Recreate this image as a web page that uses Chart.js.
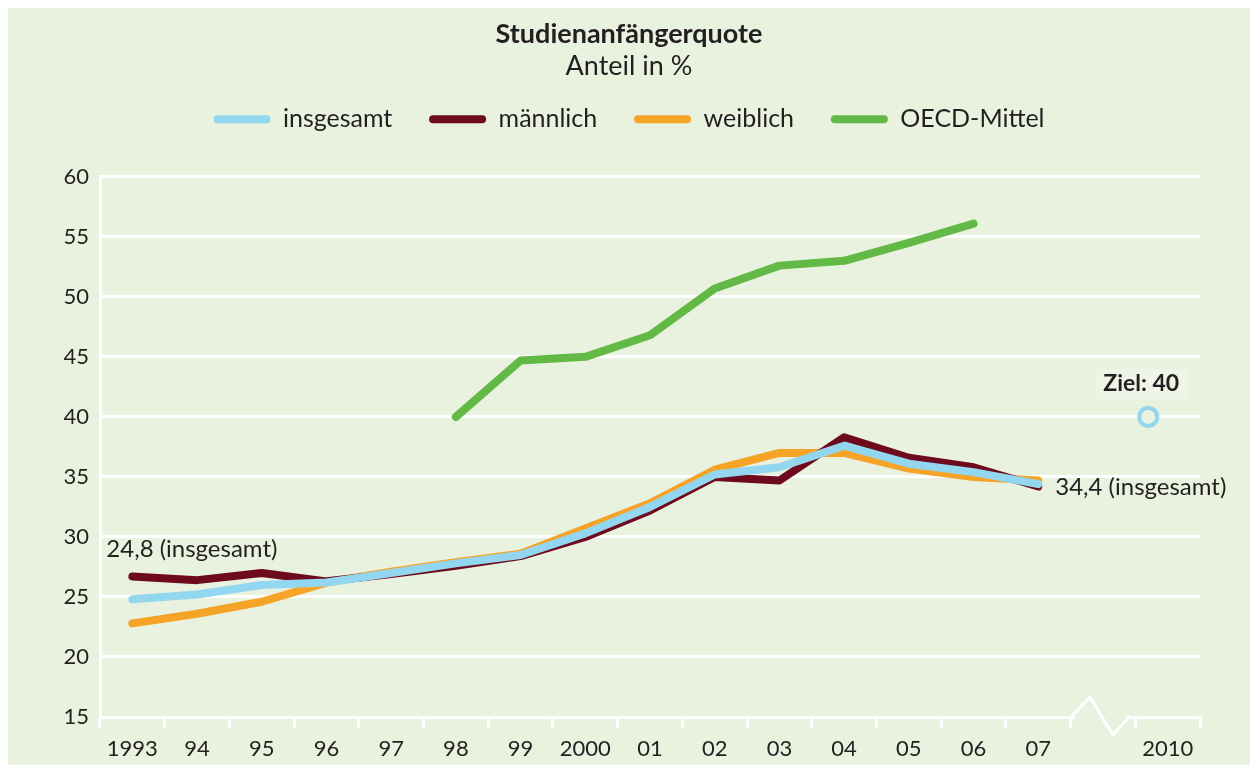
<!DOCTYPE html>
<html lang="de">
<head>
<meta charset="utf-8">
<title>Studienanfängerquote</title>
<script src="https://cdn.jsdelivr.net/npm/chart.js@4.4.1/dist/chart.umd.min.js"></script>
<style>
  html, body { margin: 0; padding: 0; background: #fff; }
  #panel { position: absolute; left: 8px; top: 8px; width: 1242px; height: 757px; background: #e9f1df; }
  #chart { display: block; }
</style>
</head>
<body>
<div id="panel"><canvas id="chart" width="1242" height="757"></canvas></div>
<script>
(() => {
  // categories: 1993..2007, a gap slot for the axis break, then 2010
  const years = ["1993", "94", "95", "96", "97", "98", "99", "2000", "01", "02", "03", "04", "05", "06", "07", "", "2010"];

  const insgesamt = [24.8, 25.2, 26.0, 26.2, 27.0, 27.8, 28.5, 30.3, 32.5, 35.2, 35.8, 37.6, 36.1, 35.4, 34.4, null, null];
  const maennlich = [26.7, 26.4, 27.0, 26.3, 26.9, 27.6, 28.4, 30.0, 32.2, 35.0, 34.7, 38.3, 36.6, 35.8, 34.2, null, null];
  const weiblich = [22.8, 23.6, 24.6, 26.2, 27.1, 27.9, 28.6, 30.7, 32.8, 35.6, 37.0, 37.0, 35.7, 35.0, 34.7, null, null];
  const oecdMittel = [null, null, null, null, null, 40.0, 44.7, 45.0, 46.8, 50.7, 52.6, 53.0, 54.5, 56.1, null, null, null];

  // target for 2010, drawn a little left of the 2010 slot centre as in the original
  const zielPos = 15.7;
  const zielWert = 40;

  const yTicks = [15, 20, 25, 30, 35, 40, 45, 50, 55, 60];

  const BG = "#e9f1df";
  const TEXT = "#231f20";
  const BLUE = "#93d6f0";
  const MAROON = "#6d0a1d";
  const ORANGE = "#f5a427";
  const GREEN = "#62b946";
  const FONT = "Lato, 'Open Sans', sans-serif";

  const fmt = (v) => String(v).replace(".", ",");

  function line(label, data, color) {
    return {
      label,
      data,
      borderColor: color,
      backgroundColor: color,
      borderWidth: 8,
      borderCapStyle: "round",
      borderJoinStyle: "round",
      pointRadius: 0,
      pointHoverRadius: 0,
      tension: 0,
      spanGaps: false
    };
  }

  // extra room between legend and plot
  const legendSpace = {
    id: "legendSpace",
    beforeInit(chart) {
      const fit = chart.legend.fit;
      chart.legend.fit = function () {
        fit.bind(chart.legend)();
        this.height += 35;
      };
    }
  };

  const notes = {
    id: "notes",
    afterDatasetsDraw(chart) {
      const { ctx } = chart;
      const xs = chart.scales.x;
      const ys = chart.scales.y;
      const xt = chart.scales.xt;
      ctx.save();
      ctx.fillStyle = TEXT;
      ctx.textBaseline = "middle";

      ctx.font = `24px ${FONT}`;
      ctx.textAlign = "left";
      ctx.fillText(`${fmt(insgesamt[0])} (insgesamt)`, xs.getPixelForValue(0) - 26, ys.getPixelForValue(insgesamt[0]) - 50);
      ctx.fillText(`${fmt(insgesamt[14])} (insgesamt)`, xs.getPixelForValue(14) + 17, ys.getPixelForValue(insgesamt[14]) + 3);

      const zx = xt.getPixelForValue(zielPos) - 7;
      const zy = ys.getPixelForValue(zielWert) - 33;
      ctx.font = `bold 23px ${FONT}`;
      const w = ctx.measureText(`Ziel: ${zielWert}`).width + 16;
      ctx.fillStyle = "#eef5e7";
      ctx.fillRect(zx - w / 2, zy - 15, w, 30);
      ctx.fillStyle = TEXT;
      ctx.textAlign = "center";
      ctx.fillText(`Ziel: ${zielWert}`, zx, zy);
      ctx.restore();
    },
    afterDraw(chart) {
      // axis break between 2007 and 2010
      const { ctx } = chart;
      const xs = chart.scales.x;
      const c = xs.getPixelForValue(15);
      const y0 = chart.chartArea.bottom;
      ctx.save();
      ctx.fillStyle = BG;
      ctx.fillRect(c - 28, y0 - 3, 52, 6);
      ctx.strokeStyle = "#fff";
      ctx.lineWidth = 3;
      ctx.lineJoin = "miter";
      ctx.beginPath();
      ctx.moveTo(c - 31, y0 - 1);
      ctx.lineTo(c - 13, y0 - 20);
      ctx.lineTo(c + 10, y0 + 18);
      ctx.lineTo(c + 27, y0 - 1);
      ctx.stroke();
      ctx.restore();
    }
  };

  new Chart(document.getElementById("chart"), {
    type: "line",
    data: {
      labels: years,
      datasets: [
        line("insgesamt", insgesamt, BLUE),
        line("männlich", maennlich, MAROON),
        line("weiblich", weiblich, ORANGE),
        line("OECD-Mittel", oecdMittel, GREEN),
        {
          label: "Ziel",
          data: [{ x: zielPos, y: zielWert }],
          xAxisID: "xt",
          showLine: false,
          pointRadius: 9,
          pointHoverRadius: 9,
          pointBorderWidth: 4,
          pointBorderColor: BLUE,
          pointBackgroundColor: BG,
          borderColor: BLUE,
          backgroundColor: BG
        }
      ]
    },
    options: {
      responsive: false,
      devicePixelRatio: 1,
      animation: false,
      events: [],
      layout: { padding: 0 },
      plugins: {
        tooltip: { enabled: false },
        title: {
          display: true,
          text: "Studienanfängerquote",
          color: TEXT,
          font: { family: FONT, size: 27, weight: "bold" },
          padding: { top: 10, bottom: 0 }
        },
        subtitle: {
          display: true,
          text: "Anteil in %",
          color: TEXT,
          font: { family: FONT, size: 27 },
          padding: { top: 0, bottom: 0 }
        },
        legend: {
          display: true,
          position: "top",
          labels: {
            color: TEXT,
            font: { family: FONT, size: 25 },
            boxWidth: 57,
            boxHeight: 8,
            padding: 24,
            useBorderRadius: true,
            borderRadius: 4,
            filter: (item) => item.datasetIndex < 4,
            generateLabels(chart) {
              return Chart.defaults.plugins.legend.labels.generateLabels(chart).map((item, i) => ({
                ...item,
                text: i < 3 ? item.text + "  " : item.text,
                fillStyle: chart.data.datasets[item.datasetIndex].borderColor,
                strokeStyle: chart.data.datasets[item.datasetIndex].borderColor,
                lineWidth: 0,
                borderRadius: 4
              }));
            }
          }
        }
      },
      scales: {
        x: {
          type: "category",
          offset: true,
          grid: {
            offset: true,
            drawOnChartArea: false,
            color: "#fff",
            lineWidth: 3,
            tickLength: 11,
            tickColor: "#fff",
            tickWidth: 3
          },
          border: { display: true, color: "#fff", width: 3 },
          ticks: {
            color: TEXT,
            font: { family: FONT, size: 22 },
            padding: 8,
            maxRotation: 0,
            autoSkip: false
          },
          afterFit(scale) { scale.height = 48; }
        },
        xt: {
          type: "linear",
          display: false,
          min: -0.5,
          max: years.length - 0.5
        },
        y: {
          min: yTicks[0],
          max: yTicks[yTicks.length - 1],
          afterBuildTicks(scale) { scale.ticks = yTicks.map((v) => ({ value: v })); },
          grid: { color: "#fff", lineWidth: 3, drawTicks: false },
          border: { display: true, color: "#fff", width: 3 },
          ticks: {
            color: TEXT,
            font: { family: FONT, size: 22 },
            padding: 11
          },
          afterFit(scale) { scale.width = 92; }
        },
        // empty right-hand margin so the title and legend stay centred on the panel
        yr: {
          type: "linear",
          position: "right",
          display: true,
          grid: { display: false, drawTicks: false },
          border: { display: false },
          ticks: { display: false },
          afterFit(scale) { scale.width = 50; }
        }
      }
    },
    plugins: [legendSpace, notes]
  });
})();
</script>
</body>
</html>
